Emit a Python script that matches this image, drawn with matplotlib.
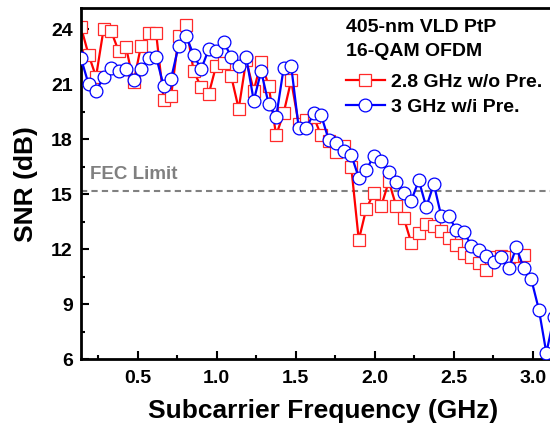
import matplotlib
matplotlib.use("Agg")
import matplotlib.pyplot as plt

plt.rcParams["font.family"] = ["Liberation Sans", "DejaVu Sans"]
plt.rcParams["font.weight"] = "bold"

# subcarrier frequencies (GHz)
freq = [0.141, 0.189, 0.236, 0.284, 0.331, 0.379, 0.426, 0.474, 0.521, 0.569,
        0.616, 0.664, 0.711, 0.759, 0.806, 0.854, 0.901, 0.949, 0.996, 1.044,
        1.091, 1.139, 1.186, 1.234, 1.281, 1.329, 1.376, 1.424, 1.471, 1.519,
        1.566, 1.614, 1.661, 1.709, 1.756, 1.804, 1.851, 1.899, 1.946, 1.994,
        2.041, 2.089, 2.136, 2.184, 2.231, 2.279, 2.326, 2.374, 2.421, 2.469,
        2.516, 2.564, 2.611, 2.659, 2.706, 2.754, 2.801, 2.849, 2.896, 2.944,
        2.991, 3.039, 3.086, 3.134]

# 2.8 GHz w/o pre-equalization
snr_wo = [24.1, 22.6, 21.4, 24.0, 23.9, 22.8, 23.0, 21.1, 23.1, 23.8,
          23.8, 20.15, 20.35, 23.6, 24.2, 21.7, 20.85, 20.45, 22.0, 22.15,
          21.45, 19.65, 22.3, 20.65, 22.2, 20.9, 18.2, 19.45, 21.2, 18.8,
          19.05, 19.2, 18.2, 17.9, 17.3, 17.6, 16.5, 12.5, 14.2, 15.05,
          14.35, 15.7, 14.35, 13.7, 12.35, 12.9, 13.4, 13.25, 13.0, 12.6,
          12.25, 11.8, 11.55, 11.25, 10.85, 11.55, 11.65, 11.6, 11.65, 11.7]

# 3 GHz with pre-equalization
snr_wi = [22.4, 21.0, 20.6, 21.4, 21.9, 21.7, 21.8, 21.2, 21.8, 22.4,
          22.5, 20.9, 21.3, 23.1, 23.6, 22.6, 21.8, 22.9, 22.8, 23.3,
          22.5, 22.0, 22.5, 20.1, 21.7, 19.9, 19.2, 21.9, 22.0, 18.6,
          18.6, 19.4, 19.3, 17.95, 17.77, 17.35, 17.15, 15.9, 16.3, 17.1,
          16.8, 16.2, 15.65, 15.05, 14.65, 15.75, 14.3, 15.55, 13.8, 13.8,
          13.05, 12.95, 12.2, 11.95, 11.65, 11.3, 11.55, 10.95, 12.1, 10.95,
          10.35, 8.7, 6.35, 8.3]

fec_limit = 15.2

fig = plt.figure(figsize=(5.5, 4.25), dpi=100)
ax = fig.add_axes([0.1473, 0.1546, 0.8788, 0.8266])

ax.axhline(fec_limit, color="#808080", linestyle=(0, (3, 2)), linewidth=1.5, zorder=1)
ax.text(0.2, 15.6, "FEC Limit", color="#808080", fontsize=13.5, fontweight="bold",
        ha="left", va="bottom")

ax.plot(freq[:len(snr_wo)], snr_wo, color="#ff0000", linewidth=1.6,
        marker="s", markersize=8.2, markerfacecolor="white",
        markeredgecolor="#ff2a2a", markeredgewidth=0.9,
        label="2.8 GHz w/o Pre.", zorder=2)
ax.plot(freq, snr_wi, color="#0000ff", linewidth=1.6,
        marker="o", markersize=9.2, markerfacecolor="white",
        markeredgecolor="#0000ff", markeredgewidth=0.9,
        label="3 GHz w/i Pre.", zorder=3)

ax.set_xlim(0.141, 3.2)
ax.set_ylim(6, 25.15)
ax.set_xticks([0.5, 1.0, 1.5, 2.0, 2.5, 3.0])
ax.set_xticks([0.25, 0.75, 1.25, 1.75, 2.25, 2.75], minor=True)
ax.set_yticks([6, 9, 12, 15, 18, 21, 24])
ax.set_yticks([7.5, 10.5, 13.5, 16.5, 19.5, 22.5], minor=True)
ax.tick_params(which="both", direction="in", width=1.5, labelsize=14)
ax.tick_params(which="major", length=6)
ax.tick_params(which="minor", length=3)
ax.tick_params(axis="x", pad=8)
ax.tick_params(axis="y", pad=6)
for lab in ax.get_xticklabels() + ax.get_yticklabels():
    lab.set_fontweight("bold")
for s in ax.spines.values():
    s.set_linewidth(2.0)

ax.set_xlabel("Subcarrier Frequency (GHz)", fontsize=19, fontweight="bold", labelpad=8)
ax.set_ylabel("SNR (dB)", fontsize=19, fontweight="bold", labelpad=9)

fig.text(346 / 550, 1 - 27 / 425, "405-nm VLD PtP", fontsize=14, fontweight="bold",
         ha="left", va="center")
fig.text(346 / 550, 1 - 52 / 425, "16-QAM OFDM", fontsize=14, fontweight="bold",
         ha="left", va="center")
leg = ax.legend(loc="upper left", bbox_to_anchor=(346 / 550, 1 - 73 / 425),
                bbox_transform=fig.transFigure, frameon=False, fontsize=14,
                handlelength=2.0, handletextpad=0.3, labelspacing=0.4,
                borderaxespad=0, borderpad=0)
for t in leg.get_texts():
    t.set_fontweight("bold")

fig.savefig("out.png", dpi=100)
